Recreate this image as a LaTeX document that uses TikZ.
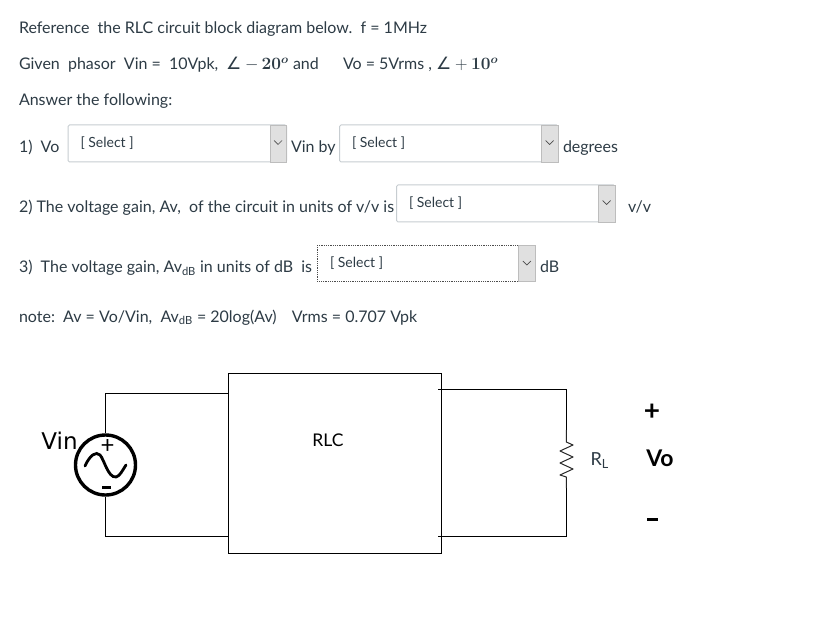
\documentclass[tikz,border=0pt]{standalone}
\usepackage[no-math]{fontspec}
\usepackage{amsmath}
\setmainfont{Lato}
\newfontfamily\vinfont{DejaVu Sans}
\definecolor{ink}{HTML}{2D3B45}
\definecolor{boxline}{HTML}{C7CDD1}
\definecolor{btn}{HTML}{E0E0E0}
\definecolor{btnline}{HTML}{BDBDBD}
\tikzset{
 txt/.style={anchor=base west,inner sep=0pt,outer sep=0pt,text=ink,font=\fontsize{16}{18}\selectfont},
 mth/.style={anchor=base west,inner sep=0pt,outer sep=0pt,text=ink,font=\fontsize{17.28}{18}\selectfont},
 sel/.style={anchor=base west,inner sep=0pt,outer sep=0pt,text=ink,font=\fontsize{14}{16}\selectfont},
 selbox/.style={draw=boxline,line width=1pt,rounded corners=1.5pt,fill=white,minimum width=218.5pt,minimum height=37pt,anchor=north west,inner sep=0pt},
 focusbox/.style={draw=black!70,line width=.8pt,densely dotted,fill=white,minimum width=218pt,minimum height=36pt,anchor=north west,inner sep=0pt},
 wire/.style={draw=black,line width=1pt},
 chev/.style={draw=black!70,line width=.7pt},
 ctxt/.style={anchor=base,inner sep=0pt,outer sep=0pt,text=black},
}
\newcommand{\selectctl}[4]{% name, x, y, style
 \node[#4] (#1) at (#2pt,-#3pt) {};
 \fill[btn,draw=btnline,line width=.8pt] ([xshift=-17pt,yshift=-.5pt]#1.north east) rectangle ([xshift=-.3pt,yshift=.5pt]#1.south east);
 \draw[chev] ([xshift=-13pt,yshift=-16pt]#1.north east) -- ([xshift=-9pt,yshift=-20pt]#1.north east) -- ([xshift=-5pt,yshift=-16pt]#1.north east);
 \node[sel] at ([xshift=13pt,yshift=-23pt]#1.north west) {[ Select ]};
}
\newcommand{\bigangle}{{\vinfont\fontsize{17}{18}\selectfont ∠}}
\begin{document}
\begin{tikzpicture}[x=1pt,y=-1pt]
\useasboundingbox (0,0) rectangle (816,636);
\fill[white] (0,0) rectangle (816,636);
\node[txt] (l1) at (19,34) {Reference\ \ the RLC circuit block diagram below.\ \ f = 1MHz};
\node[txt] (l2a) at (19,70) {Given\ \ phasor\ \ Vin =\ \ 10Vpk,};
\node[mth] (l2b) at (226,70) {\bigangle\kern4pt$-$\kern3pt$\mathbf{20}^{\boldsymbol{o}}$};
\node[txt] (l2c) at (293,70) {and};
\node[txt] (l2d) at (343,70) {Vo = 5Vrms ,};
\node[mth] (l2e) at (436,70) {\bigangle\kern4pt$+$\kern3.5pt$\mathbf{10}^{\boldsymbol{o}}$};
\node[txt] (l3) at (19,106) {Answer the following:};
\node[txt] (q1) at (19,152.5) {1)\ \ Vo};
\selectctl{s1}{67.5}{124.5}{selbox}
\node[txt] (q1b) at (291,152.5) {Vin by};
\selectctl{s2}{339}{124.5}{selbox}
\node[txt] (q1c) at (563,152.5) {degrees};
\node[txt] (q2) at (19,212.5) {2) The voltage gain, Av,\ \ of the circuit in units of v/v is};
\selectctl{s3}{396}{184.5}{selbox}
\node[txt] (q2b) at (628,212.5) {v/v};
\node[txt] (q3) at (19,272.5) {3)\ \ The voltage gain, Av\textsubscript{dB} in units of dB\ \ is};
\selectctl{s4}{317}{245}{focusbox}
\node[txt] (q3b) at (540,272.5) {dB};
\node[txt] (note) at (19,322) {note:\ \ Av = Vo/Vin,\ \ Av\textsubscript{dB} = 20log(Av)\ \ \ \kern3pt Vrms = 0.707 Vpk};
% circuit
\node[draw=black,line width=1pt,minimum width=213pt,minimum height=180pt,inner sep=0pt,anchor=north west,fill=white] (rlc) at (228,373) {};
\node[ctxt,font=\fontsize{17.5}{18}\selectfont] (rlclabel) at (328,446) {RLC};
\node[circle,draw=black,line width=3.4pt,minimum size=60pt,inner sep=0pt,fill=white] (src) at (105.5,465) {};
\coordinate (st) at (228,393.3);
\coordinate (sb) at (228,536.7);
\draw[wire] (src.north) |- (st);
\draw[wire] (src.south) |- (sb);
\draw[line width=2.8pt,line cap=round] (85,466) .. controls (90,455) and (96,451) .. (100,455) .. controls (104,459) and (108,478) .. (116,477) .. controls (120,476) and (122,471) .. (126,465);
\node[ctxt,font=\fontsize{24}{24}\selectfont] (splus) at (107.5,453) {+};
\draw[line width=2.4pt] (102,487.5) -- (111,487.5);
\node[ctxt,font=\vinfont\fontsize{23}{24}\selectfont] (vin) at (59.5,449.5) {Vin};
\coordinate (ot) at (438,389.3);
\coordinate (ob) at (438,536.7);
\coordinate (rt) at (566.3,430);
\coordinate (rb) at (566.3,488);
\draw[wire] (ot) -| (rt);
\draw[wire] (ob) -| (rb);
\draw[draw=black!85,line width=1pt,line join=round] (rt) -- (566.3,442) -- (573,445) -- (560,451) -- (573,457) -- (560,463) -- (573,469) -- (560,475) -- (566.3,477) -- (rb);
\node[anchor=base west,inner sep=0pt,text=ink,font=\fontsize{18}{18}\selectfont] (rl) at (590.5,465) {R\textsubscript{L}};
\node[ctxt,font=\bfseries\fontsize{28}{28}\selectfont] (vop) at (652,420) {+};
\node[ctxt,font=\bfseries\fontsize{23}{24}\selectfont] (vo) at (660,466) {Vo};
\draw[line width=3pt] (647,519) -- (657.5,519);
\end{tikzpicture}
\end{document}
